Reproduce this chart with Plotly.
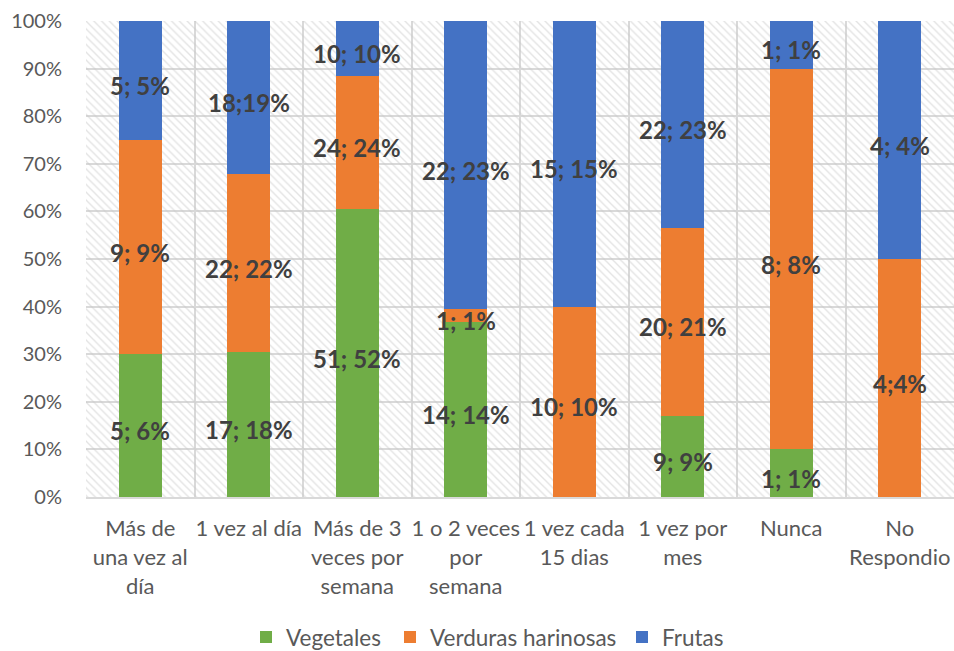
import plotly.graph_objects as go

# Frequency categories (x axis)
categories = [
    "Más de<br>una vez al<br>día",
    "1 vez al día",
    "Más de 3<br>veces por<br>semana",
    "1 o 2 veces<br>por<br>semana",
    "1 vez cada<br>15 dias",
    "1 vez por<br>mes",
    "Nunca",
    "No<br>Respondio",
]

# Counts and percentages per group
veg_n = [5, 17, 51, 14, 0, 9, 1, 0]
veg_pct = [6, 18, 52, 14, 0, 9, 1, 0]
har_n = [9, 22, 24, 1, 10, 20, 8, 4]
har_pct = [9, 22, 24, 1, 10, 21, 8, 4]
fru_n = [5, 18, 10, 22, 15, 22, 1, 4]
fru_pct = [5, 19, 10, 23, 15, 23, 1, 4]

# Separator used in each data label
veg_sep = ["; "] * 8
har_sep = ["; ", "; ", "; ", "; ", "; ", "; ", "; ", ";"]
fru_sep = ["; ", ";", "; ", "; ", "; ", "; ", "; ", "; "]

series = [
    ("Vegetales", veg_n, veg_pct, veg_sep, "#70AD47"),
    ("Verduras harinosas", har_n, har_pct, har_sep, "#ED7D31"),
    ("Frutas", fru_n, fru_pct, fru_sep, "#4472C4"),
]

FONT = "Lato"
TEXT_GRAY = "#595959"
GRID = "#d9d9d9"
W, H = 954, 651

# Left edge (px) of each legend entry
legend_left = [246, 390, 622]

fig = go.Figure()

# Hatched plot background drawn as a full-height bar per category
fig.add_trace(go.Bar(
    x=categories, y=[1] * len(categories), width=1,
    marker=dict(color="rgba(0,0,0,0)", line=dict(width=0),
                pattern=dict(shape="\\", fgcolor="#c8c8c8", bgcolor="rgba(0,0,0,0)",
                             size=5.5, solidity=0.25)),
    showlegend=False, hoverinfo="skip", xaxis="x", yaxis="y",
))

# Stacked 100% bars, each series in its own legend box
totals = [sum(v) for v in zip(veg_pct, har_pct, fru_pct)]
cum = [0.0] * len(categories)
labels = []
legend_ids = ["legend", "legend2", "legend3"]
for k, (name, n, pct, sep, color) in enumerate(series):
    fig.add_trace(go.Bar(
        x=categories, y=pct, name=name,
        marker=dict(color=color, line=dict(width=0)),
        xaxis="x2", yaxis="y2", legend=legend_ids[k],
    ))
    for i, (c, p, s) in enumerate(zip(n, pct, sep)):
        share = p / totals[i] * 100
        if p > 0:
            labels.append((categories[i], cum[i] + share / 2, f"{c}{s}{p}%"))
        cum[i] += share

# Data labels
for x, y, t in labels:
    fig.add_annotation(
        x=x, y=y, xref="x2", yref="y2", text=t, showarrow=False,
        yshift=-5,
        font=dict(family=FONT, size=24, color="#404040", weight="bold"),
    )

legend_style = dict(
    orientation="h", xref="container", xanchor="left",
    yref="container", y=0.021, yanchor="middle",
    font=dict(family=FONT, size=22.5, color=TEXT_GRAY),
    itemwidth=30, bgcolor="rgba(0,0,0,0)",
)

fig.update_layout(
    width=W, height=H,
    margin=dict(l=86, r=0, t=21, b=154, autoexpand=False),
    paper_bgcolor="white", plot_bgcolor="white",
    barmode="stack", barnorm="percent", bargap=0.6,
    font=dict(family=FONT, size=22, color=TEXT_GRAY),
    xaxis=dict(
        type="category", tickson="boundaries", showgrid=True,
        gridcolor=GRID, gridwidth=2, ticks="", showline=True,
        linecolor=GRID, linewidth=2, ticklabelstandoff=11, tickangle=0,
        tickfont=dict(family=FONT, size=22, color=TEXT_GRAY),
        range=[-0.5, 7.5], automargin=False,
    ),
    yaxis=dict(
        range=[0, 100], dtick=10, ticksuffix="%", showgrid=True,
        gridcolor=GRID, gridwidth=2, zeroline=False, ticks="",
        ticklabelstandoff=23, automargin=False,
        tickfont=dict(family=FONT, size=20, color=TEXT_GRAY),
    ),
    xaxis2=dict(type="category", overlaying="x", visible=False,
                range=[-0.5, 7.5], categoryorder="array",
                categoryarray=categories),
    yaxis2=dict(overlaying="y", visible=False, range=[0, 100]),
    legend=dict(x=legend_left[0] / W, **legend_style),
    legend2=dict(x=legend_left[1] / W, **legend_style),
    legend3=dict(x=legend_left[2] / W, **legend_style),
)

fig.write_html("out.html")
